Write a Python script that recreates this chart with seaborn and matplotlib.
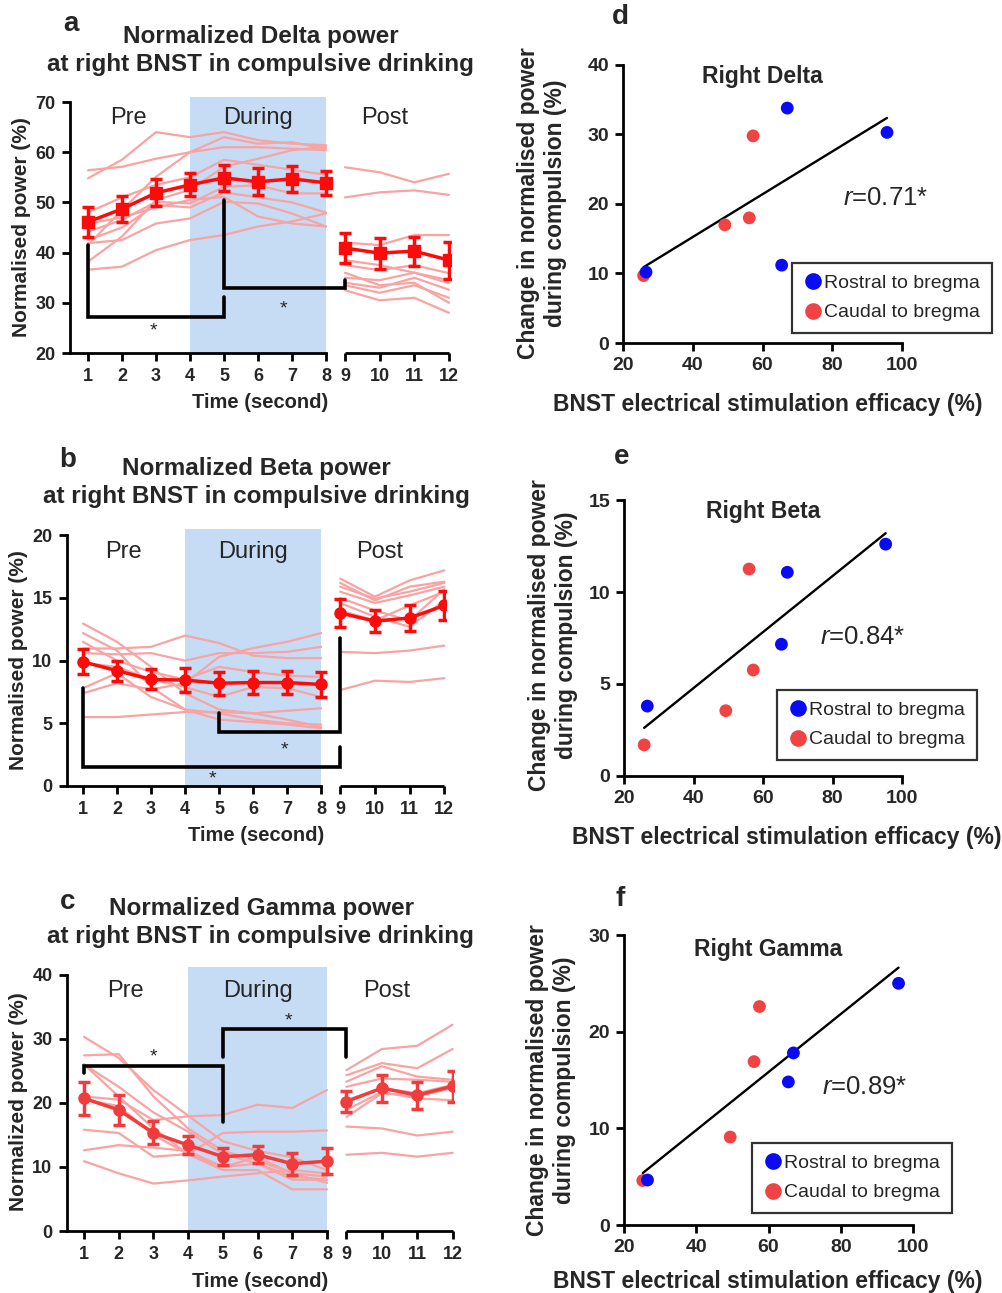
import numpy as np
import pandas as pd
import matplotlib
matplotlib.use("Agg")
import matplotlib.pyplot as plt
import seaborn as sns

sns.set_theme(style="ticks")
plt.rcParams["font.family"] = ["Liberation Sans", "DejaVu Sans"]
plt.rcParams["mathtext.fontset"] = "custom"
plt.rcParams["mathtext.rm"] = "Liberation Sans"
plt.rcParams["mathtext.it"] = "Liberation Sans:italic"

# ---------------- data: time course panels (a-c) ----------------
time_s = list(range(1, 13))

delta_mean = [46.1, 48.7, 51.9, 53.5, 54.9, 54.1, 54.7, 53.9, 40.9, 39.9, 40.3, 38.5]
delta_sem = [2.9, 2.6, 2.7, 2.3, 2.6, 2.7, 2.6, 2.4, 3.0, 3.1, 2.9, 3.7]
delta_subjects = [
    [54.8, 58.5, 64.0, 63.0, 64.0, 62.4, 61.7, 61.4, 57.0, 56.0, 54.0, 55.7],
    [56.4, 57.1, 58.7, 60.0, 61.0, 61.0, 60.7, 60.4, 51.0, 52.0, 52.4, 51.5],
    [41.5, 48.5, 55.1, 60.0, 63.0, 61.7, 62.0, 60.7, 37.5, 36.5, 37.5, 35.9],
    [38.2, 43.2, 50.5, 52.5, 57.1, 58.7, 60.4, 61.1, 35.0, 34.5, 36.0, 33.9],
    [44.2, 46.5, 50.1, 49.8, 53.1, 53.4, 51.8, 51.8, 34.0, 33.0, 35.0, 32.6],
    [42.5, 45.0, 49.5, 49.0, 52.0, 51.0, 50.0, 48.0, 33.5, 32.0, 33.5, 31.0],
    [36.6, 37.2, 40.5, 42.5, 43.5, 45.2, 46.2, 47.8, 32.5, 30.5, 31.0, 28.0],
    [41.9, 42.5, 45.8, 46.8, 50.1, 49.8, 47.8, 45.2, 36.0, 33.5, 34.0, 30.0],
    [45.8, 47.0, 49.0, 50.5, 51.1, 47.2, 45.8, 45.2, 38.5, 37.5, 36.0, 34.5],
    [48.0, 51.0, 53.5, 55.0, 58.5, 57.5, 56.5, 55.5, 42.0, 41.5, 43.5, 43.5],
]

beta_mean = [9.9, 9.2, 8.5, 8.45, 8.2, 8.25, 8.25, 8.1, 13.8, 13.15, 13.4, 14.4]
beta_sem = [1.0, 0.8, 0.8, 0.93, 0.93, 0.9, 0.95, 1.0, 1.1, 0.9, 1.0, 1.13]
beta_subjects = [
    [12.96, 11.5, 9.5, 7.4, 6.1, 5.8, 5.3, 4.7, 16.55, 15.1, 16.4, 17.2],
    [12.2, 10.8, 7.9, 6.1, 5.3, 5.1, 4.9, 4.6, 16.2, 14.8, 15.9, 16.3],
    [10.97, 10.97, 11.1, 12.0, 11.4, 10.4, 10.2, 10.2, 15.9, 14.95, 15.5, 16.2],
    [10.6, 10.5, 10.6, 10.0, 10.6, 10.6, 10.7, 11.1, 15.5, 14.6, 15.2, 15.9],
    [7.4, 8.2, 7.7, 8.2, 10.3, 11.0, 11.5, 12.2, 15.0, 14.0, 13.2, 15.7],
    [5.5, 5.5, 5.7, 5.9, 5.9, 5.8, 6.0, 6.2, 7.65, 8.4, 8.3, 8.6],
    [9.8, 9.5, 8.5, 7.9, 7.1, 7.9, 7.8, 7.1, 14.6, 13.5, 12.7, 14.8],
    [11.5, 10.0, 9.1, 8.5, 9.5, 9.1, 8.8, 8.7, 14.0, 13.2, 14.4, 15.5],
    [7.8, 9.0, 7.1, 6.1, 5.8, 5.3, 5.0, 4.9, 10.7, 10.6, 10.8, 11.2],
]

gamma_mean = [20.7, 18.9, 15.3, 13.4, 11.6, 11.9, 10.5, 10.9, 20.2, 22.3, 21.2, 22.6]
gamma_sem = [2.55, 2.3, 1.8, 1.4, 1.35, 1.3, 1.7, 2.0, 1.6, 2.1, 2.1, 2.4]
gamma_subjects = [
    [30.3, 27.0, 22.0, 18.0, 14.0, 12.5, 11.5, 9.5, 25.1, 28.4, 28.9, 32.2],
    [27.4, 27.6, 21.0, 16.0, 12.5, 11.0, 9.0, 7.5, 24.3, 26.2, 25.4, 28.4],
    [26.0, 22.5, 18.5, 15.5, 12.0, 10.5, 8.5, 8.0, 23.3, 25.7, 24.1, 23.6],
    [21.0, 20.5, 17.3, 17.9, 18.1, 19.7, 19.2, 22.0, 22.5, 23.8, 23.6, 23.3],
    [15.8, 15.3, 11.6, 12.0, 15.3, 15.5, 15.5, 15.7, 16.3, 16.0, 14.9, 15.5],
    [12.6, 13.4, 13.0, 12.5, 10.0, 11.5, 9.0, 8.5, 20.4, 22.3, 21.5, 22.8],
    [10.9, 9.0, 7.4, 7.9, 8.5, 9.0, 9.5, 9.0, 11.9, 12.2, 11.6, 12.2],
    [20.5, 19.5, 15.0, 12.0, 9.5, 9.5, 6.5, 6.5, 18.9, 21.7, 20.7, 20.4],
    [26.0, 21.0, 16.0, 12.0, 10.0, 10.5, 8.0, 8.0, 17.8, 21.5, 21.0, 22.3],
]

# significance brackets: (time points, heights), star (time, height)
delta_brackets = [([1, 1, 5, 5], [41.5, 27.2, 27.2, 31.2], (2.94, 24.3)),
                  ([5, 5, 9, 9], [50.5, 33.0, 33.0, 34.5], (6.76, 28.7))]
beta_brackets = [([1, 1, 9, 9], [7.8, 1.5, 1.5, 3.1], (4.82, 0.55)),
                 ([5, 5, 9, 9], [5.8, 4.3, 4.3, 11.8], (6.91, 2.9))]
gamma_brackets = [([1, 1, 5, 5], [24.7, 25.8, 25.8, 17.0], (2.99, 27.2)),
                  ([5, 5, 9, 9], [27.2, 31.6, 31.6, 27.2], (6.88, 32.7))]

# ---------------- data: correlation panels (d-f) ----------------
sites = ["Caudal to bregma"] * 4 + ["Rostral to bregma"] * 4
delta_eff = [25.9, 57.3, 49.2, 56.2, 26.6, 67.1, 95.7, 65.5]
delta_change = [9.7, 29.8, 17.0, 18.0, 10.2, 33.8, 30.3, 11.2]
beta_eff = [25.8, 56.0, 57.2, 49.3, 26.7, 67.0, 95.3, 65.3]
beta_change = [1.69, 11.25, 5.76, 3.55, 3.8, 11.07, 12.6, 7.16]
gamma_eff = [25.2, 57.5, 56.0, 49.4, 26.5, 66.9, 96.0, 65.5]
gamma_change = [4.6, 22.6, 16.9, 9.1, 4.65, 17.8, 25.0, 14.8]

IND_COLOR = "#F9A3A3"
BAND_COLOR = "#C6DCF5"
W, H = 1002, 1293


def xpos(t):
    # broken time axis: post segment starts just after second 8
    return t if t <= 8 else 8.56 + 1.02 * (t - 9)


def time_panel(ax, subjects, mean, sem, marker, mean_color, ylim, yticks,
               brackets, label_y, xlim):
    ax.set_xlim(*xlim)
    ax.set_ylim(*ylim)
    ax.axvspan(4, 8, color=BAND_COLOR, lw=0, zorder=0)

    rows = []
    for i, vals in enumerate(subjects):
        for t, v in zip(time_s, vals):
            rows.append({"unit": f"{i}_{'pre' if t <= 8 else 'post'}",
                         "x": xpos(t), "value": v})
    df = pd.DataFrame(rows)
    sns.lineplot(data=df, x="x", y="value", units="unit", estimator=None,
                 color=IND_COLOR, lw=1.6, ax=ax, legend=False, zorder=2)

    for seg in (slice(0, 8), slice(8, 12)):
        xs = [xpos(t) for t in time_s[seg]]
        ax.errorbar(xs, mean[seg], yerr=sem[seg], marker=marker, ms=8,
                    color=mean_color, lw=2.5, elinewidth=2.5, capsize=4.5,
                    capthick=2.5, zorder=4)

    for bx, by, (sx, sy) in brackets:
        ax.plot([xpos(t) for t in bx], by, color="black", lw=2.6,
                solid_joinstyle="miter", clip_on=False, zorder=5)
        ax.text(sx, sy, "*", ha="center", va="center", fontsize=14, zorder=5)

    for name, xt in (("Pre", 2.2), ("During", 6.0), ("Post", 9.72)):
        ax.text(xt, label_y, name, ha="center", va="center", fontsize=17)

    ax.set_xticks([xpos(t) for t in time_s])
    ax.set_xticklabels([str(t) for t in time_s])
    ax.set_yticks(yticks)
    sns.despine(ax=ax)
    ax.spines["left"].set_bounds(yticks[0], yticks[-1])
    ax.spines["bottom"].set_bounds(xlim[0], 8)
    for sp in ("left", "bottom"):
        ax.spines[sp].set_linewidth(2)
        ax.spines[sp].set_color("black")
    ax.plot([xpos(9), xpos(12)], [0, 0], transform=ax.get_xaxis_transform(),
            color="black", lw=2, clip_on=False, solid_capstyle="butt")
    ax.tick_params(width=2, length=6, labelsize=13, color="black", pad=4.5)
    for lbl in ax.get_xticklabels() + ax.get_yticklabels():
        lbl.set_fontweight("bold")
    ax.set_xlabel("Time (second)", fontsize=14.5, fontweight="bold")
    ax.xaxis.set_label_coords(0.5, -0.155)
    ax.xaxis.label.set_va("top")
    ax.set_ylabel("")
    ax.grid(False)


def corr_panel(ax, eff, change, title, title_xy, r_text, r_xy, ylim, yticks,
               legend_anchor, xlabel_coords):
    df = pd.DataFrame({"efficacy": eff, "change": change, "site": sites})
    sns.regplot(data=df, x="efficacy", y="change", scatter=False, ci=None,
                color="black", line_kws={"lw": 1.7}, ax=ax)
    sns.scatterplot(data=df, x="efficacy", y="change", hue="site",
                    hue_order=["Rostral to bregma", "Caudal to bregma"],
                    palette={"Rostral to bregma": "#0A0AF5",
                             "Caudal to bregma": "#F04444"},
                    s=85, edgecolor="none", ax=ax, zorder=3, clip_on=False)
    ax.set_xlim(20, 100)
    ax.set_ylim(*ylim)
    ax.set_xticks([20, 40, 60, 80, 100])
    ax.set_yticks(yticks)
    sns.despine(ax=ax)
    for sp in ("left", "bottom"):
        ax.spines[sp].set_linewidth(2)
        ax.spines[sp].set_color("black")
    ax.tick_params(width=2, length=6, labelsize=14, color="black", pad=4)
    for lbl in ax.get_xticklabels() + ax.get_yticklabels():
        lbl.set_fontweight("bold")
    ax.text(*title_xy, title, ha="center", va="center", fontsize=16.5,
            fontweight="bold")
    ax.text(*r_xy, r_text, ha="left", va="center", fontsize=18.5)
    leg = ax.legend(loc="lower left", bbox_to_anchor=legend_anchor,
                    frameon=True, fancybox=False, edgecolor="black",
                    prop={"size": 14}, handletextpad=0.05, borderpad=0.6,
                    labelspacing=0.6, handlelength=1.0, borderaxespad=0,
                    markerscale=1.3)
    leg.get_frame().set_linewidth(1.6)
    ax.set_xlabel("BNST electrical stimulation efficacy (%)", fontsize=16.5,
                  fontweight="bold")
    ax.xaxis.set_label_coords(*xlabel_coords)
    ax.xaxis.label.set_va("top")
    ax.set_ylabel("")
    ax.grid(False)


fig = plt.figure(figsize=(W / 100, H / 100), dpi=100)

ax_a = fig.add_axes([70 / W, 1 - 353 / H, 381 / W, 256 / H])
ax_b = fig.add_axes([67 / W, 1 - 786 / H, 379 / W, 257 / H])
ax_c = fig.add_axes([67 / W, 1 - 1231 / H, 387 / W, 264 / H])
ax_d = fig.add_axes([623 / W, 1 - 343 / H, 279 / W, 278 / H])
ax_e = fig.add_axes([624 / W, 1 - 776 / H, 278 / W, 276 / H])
ax_f = fig.add_axes([624 / W, 1 - 1225 / H, 289 / W, 290 / H])

time_panel(ax_a, delta_subjects, delta_mean, delta_sem, "s", "#FF0A0A",
           (20, 71), [20, 30, 40, 50, 60, 70], delta_brackets, 66.8, (0.47, 11.68))
time_panel(ax_b, beta_subjects, beta_mean, beta_sem, "o", "#FF0A0A",
           (0, 20.5), [0, 5, 10, 15, 20], beta_brackets, 18.7, (0.53, 11.67))
time_panel(ax_c, gamma_subjects, gamma_mean, gamma_sem, "o", "#F03C3C",
           (0, 41.2), [0, 10, 20, 30, 40], gamma_brackets, 37.5, (0.51, 11.66))

corr_panel(ax_d, delta_eff, delta_change, "Right Delta", (60.1, 38.3),
           r"$r$=0.71*", (83, 20.8), (0, 40), [0, 10, 20, 30, 40],
           (0.606, 0.036), (0.52, -0.18))
corr_panel(ax_e, beta_eff, beta_change, "Right Beta", (60, 14.35),
           r"$r$=0.84*", (76.3, 7.55), (0, 15), [0, 5, 10, 15],
           (0.55, 0.058), (0.585, -0.181))
corr_panel(ax_f, gamma_eff, gamma_change, "Right Gamma", (59.9, 28.5),
           r"$r$=0.89*", (74.8, 14.3), (0, 30), [0, 10, 20, 30],
           (0.443, 0.041), (0.497, -0.155))

# titles (one text per line), panel letters and y labels
titles = [("Normalized Delta power", 260.5, 37), ("at right BNST in compulsive drinking", 260, 65),
          ("Normalized Beta power", 256.5, 469), ("at right BNST in compulsive drinking", 256, 497),
          ("Normalized Gamma power", 261.5, 908), ("at right BNST in compulsive drinking", 260, 936)]
for txt, cx, cy in titles:
    fig.text(cx / W, 1 - cy / H, txt, ha="center", va="center", fontsize=17.5,
             fontweight="bold")

letters = [("a", 71, 24), ("b", 68, 460), ("c", 68, 902),
           ("d", 620, 17), ("e", 622, 457), ("f", 620, 899)]
for txt, cx, cy in letters:
    fig.text(cx / W, 1 - cy / H, txt, ha="center", va="center", fontsize=20,
             fontweight="bold")

left_ylabels = [("Normalised power (%)", 22, 227), ("Normalised power (%)", 19, 660),
                ("Normalized power (%)", 19, 1102)]
for txt, cx, cy in left_ylabels:
    fig.text(cx / W, 1 - cy / H, txt, ha="center", va="center", rotation=90,
             fontsize=15, fontweight="bold")

right_ylabel = "Change in normalised power\nduring compulsion (%)"
for cx, cy in ((542, 203), (553, 635), (551, 1080)):
    fig.text(cx / W, 1 - cy / H, right_ylabel, ha="center", va="center",
             rotation=90, fontsize=16.5, fontweight="bold", linespacing=1.2)

fig.savefig("out.png", dpi=100, facecolor="white")
